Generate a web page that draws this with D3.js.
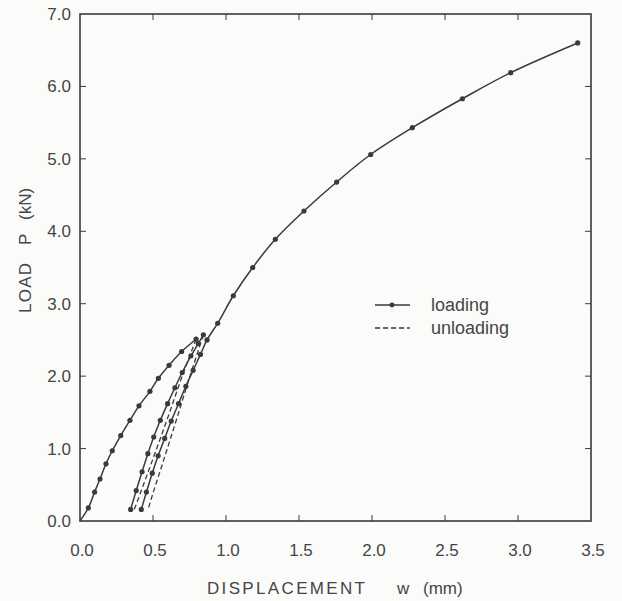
<!DOCTYPE html>
<html>
<head>
<meta charset="utf-8">
<script src="https://cdn.jsdelivr.net/npm/d3@7"></script>
<style>
  body { margin: 0; background: #fbfbfa; }
  svg { display: block; }
  text { font-family: "Liberation Sans", Arial, sans-serif; fill: #454545; }
</style>
</head>
<body>
<div id="chart"></div>
<script>
// initial loading branch up to first peak
const loadInitial = [
  [0.0, 0.0], [0.057, 0.18], [0.10, 0.40], [0.137, 0.58], [0.178, 0.79], [0.221, 0.97],
  [0.279, 1.18], [0.342, 1.39], [0.404, 1.59], [0.479, 1.79], [0.537, 1.97],
  [0.61, 2.15], [0.696, 2.34], [0.795, 2.51]
];
// first unloading (dashed)
const unload1 = [[0.795, 2.51], [0.70, 2.00], [0.60, 1.42], [0.50, 0.86], [0.42, 0.42], [0.37, 0.15]];
// first reloading
const reload1 = [
  [0.347, 0.16], [0.385, 0.42], [0.425, 0.68], [0.465, 0.93], [0.505, 1.16], [0.55, 1.39],
  [0.60, 1.62], [0.65, 1.84], [0.70, 2.05], [0.76, 2.28], [0.81, 2.45], [0.845, 2.57]
];
// second unloading (dashed)
const unload2 = [[0.845, 2.57], [0.75, 1.98], [0.65, 1.33], [0.56, 0.76], [0.49, 0.32], [0.465, 0.15]];
// second reloading, continuing on the main loading curve
const reload2 = [
  [0.42, 0.16], [0.455, 0.40], [0.495, 0.66], [0.535, 0.90], [0.58, 1.14], [0.625, 1.38],
  [0.675, 1.62], [0.725, 1.86], [0.775, 2.08], [0.825, 2.30], [0.87, 2.50],
  [0.943, 2.73], [1.05, 3.11], [1.183, 3.50], [1.338, 3.89], [1.534, 4.28], [1.758, 4.68],
  [1.991, 5.06], [2.276, 5.43], [2.619, 5.83], [2.95, 6.19], [3.409, 6.60]
];

const xTicks = [0, 0.5, 1.0, 1.5, 2.0, 2.5, 3.0, 3.5];
const yTicks = [0, 1, 2, 3, 4, 5, 6, 7];
const legendItems = ["loading", "unloading"];

const width = 622, height = 601;
const ink = "#3a3a3a";

const svg = d3.select("#chart").append("svg")
  .attr("width", width)
  .attr("height", height);

const x = d3.scaleLinear().domain([0, 3.5]).range([80, 591]);
const y = d3.scaleLinear().domain([0, 7]).range([521, 14]);

// frame
svg.append("rect")
  .attr("x", x(0)).attr("y", y(7))
  .attr("width", x(3.5) - x(0)).attr("height", y(0) - y(7))
  .attr("fill", "none").attr("stroke", ink).attr("stroke-width", 1.6);

// inward ticks on all four sides
const tl = 6;
const inner = xTicks.slice(1, -1);
svg.append("g").selectAll("line").data(inner).join("line")
  .attr("x1", d => x(d)).attr("x2", d => x(d))
  .attr("y1", y(0)).attr("y2", y(0) - tl)
  .attr("stroke", ink).attr("stroke-width", 1);
svg.append("g").selectAll("line").data(inner).join("line")
  .attr("x1", d => x(d)).attr("x2", d => x(d))
  .attr("y1", y(7)).attr("y2", y(7) + tl)
  .attr("stroke", ink).attr("stroke-width", 1);
const innerY = yTicks.slice(1, -1);
svg.append("g").selectAll("line").data(innerY).join("line")
  .attr("x1", x(0)).attr("x2", x(0) + tl)
  .attr("y1", d => y(d)).attr("y2", d => y(d))
  .attr("stroke", ink).attr("stroke-width", 1);
svg.append("g").selectAll("line").data(innerY).join("line")
  .attr("x1", x(3.5)).attr("x2", x(3.5) - tl)
  .attr("y1", d => y(d)).attr("y2", d => y(d))
  .attr("stroke", ink).attr("stroke-width", 1);

// tick labels
svg.append("g").selectAll("text").data(xTicks).join("text")
  .attr("x", d => x(d) + 2).attr("y", 556)
  .attr("text-anchor", "middle")
  .attr("font-size", 17)
  .text(d => d.toFixed(1));
svg.append("g").selectAll("text").data(yTicks).join("text")
  .attr("x", 71).attr("y", d => y(d) + 6)
  .attr("text-anchor", "end")
  .attr("font-size", 17)
  .text(d => d.toFixed(1));

// axis titles, placed piece by piece like the typeset original
const xt = svg.append("g").attr("font-size", 17);
xt.append("text").attr("x", 207).attr("y", 594)
  .attr("textLength", 158).attr("lengthAdjust", "spacing").text("DISPLACEMENT");
xt.append("text").attr("x", 397).attr("y", 594).text("w");
xt.append("text").attr("x", 423).attr("y", 594).text("(mm)");

const yt = svg.append("g").attr("font-size", 17);
yt.append("text").attr("transform", "translate(31,313) rotate(-90)")
  .attr("textLength", 50).attr("lengthAdjust", "spacing").text("LOAD");
yt.append("text").attr("transform", "translate(31,245) rotate(-90)").text("P");
yt.append("text").attr("transform", "translate(31,220) rotate(-90)").text("(kN)");

const line = d3.line().x(d => x(d[0])).y(d => y(d[1])).curve(d3.curveMonotoneY);

const solid = [loadInitial, reload1, reload2];
const dashed = [unload1, unload2];

svg.append("g").selectAll("path").data(dashed).join("path")
  .attr("d", line)
  .attr("fill", "none").attr("stroke", ink).attr("stroke-width", 1.3)
  .attr("stroke-dasharray", "5,3");

svg.append("g").selectAll("path").data(solid).join("path")
  .attr("d", line)
  .attr("fill", "none").attr("stroke", ink).attr("stroke-width", 1.5);

svg.append("g").selectAll("circle").data(solid.flat().filter(d => d[0] > 0)).join("circle")
  .attr("cx", d => x(d[0])).attr("cy", d => y(d[1]))
  .attr("r", 2.6).attr("fill", ink);

// legend
const lg = svg.append("g");
legendItems.forEach((name, i) => {
  const ly = 305 + i * 23;
  lg.append("line")
    .attr("x1", 375).attr("x2", 410).attr("y1", ly).attr("y2", ly)
    .attr("stroke", ink).attr("stroke-width", 1.3)
    .attr("stroke-dasharray", i === 1 ? "5,3" : null);
  if (i === 0) {
    lg.append("circle").attr("cx", 392).attr("cy", ly).attr("r", 2.4).attr("fill", ink);
  }
  lg.append("text")
    .attr("x", 431).attr("y", ly + 6)
    .attr("font-size", 18)
    .text(name);
});
</script>
</body>
</html>
